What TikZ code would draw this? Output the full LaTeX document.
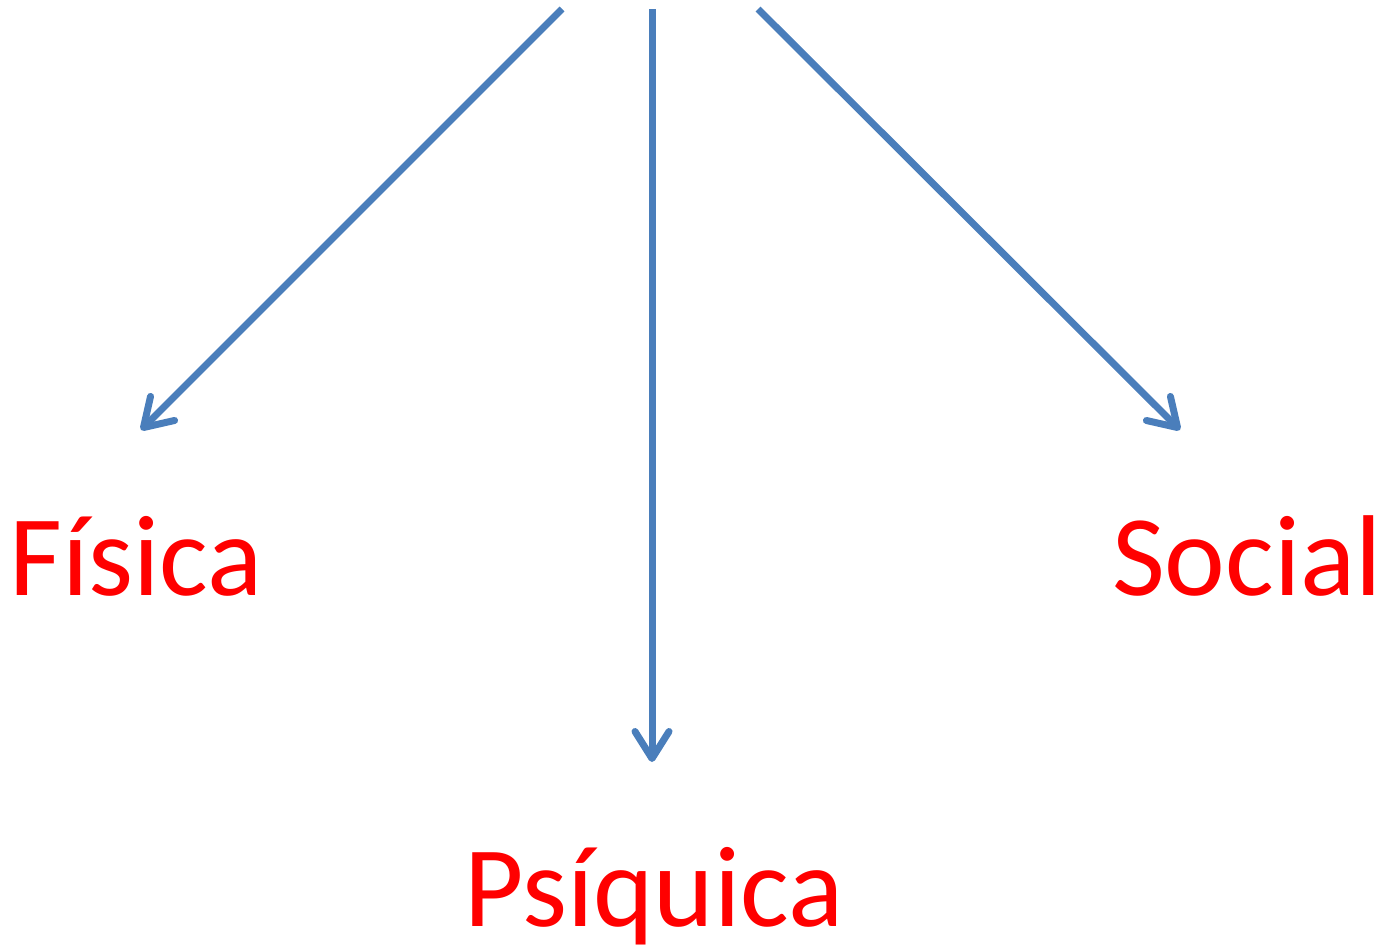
\documentclass[tikz,border=0pt]{standalone}
\usepackage{fontspec}
\setmainfont{Carlito}
\usetikzlibrary{arrows.meta}
\definecolor{arrowblue}{HTML}{4A7EBB}
\definecolor{labelred}{HTML}{FF0000}
\tikzset{
  conn/.style={draw=arrowblue, line width=7pt, -{Straight Barb[length=27pt,width=34pt,round]}},
  label/.style={text=labelred, font=\fontsize{115}{115}\selectfont, anchor=base, inner sep=0pt}
}
\begin{document}
\begin{tikzpicture}[x=1pt,y=-1pt]
\useasboundingbox (0,0) rectangle (1391,951);
\coordinate (s1) at (562,9);
\coordinate (s2) at (652,9);
\coordinate (s3) at (758,9);
\coordinate (t1) at (141,430);
\coordinate (t2) at (652,762);
\coordinate (t3) at (1180,430);
\node[label] (fisica) at (136,595) {Física};
\node[label] (social) at (1247,595) {Social};
\node[label] (psiquica) at (654,926) {Psíquica};
\draw[conn] (s1) -- (t1);
\draw[conn] (s2) -- (t2);
\draw[conn] (s3) -- (t3);
\end{tikzpicture}
\end{document}
